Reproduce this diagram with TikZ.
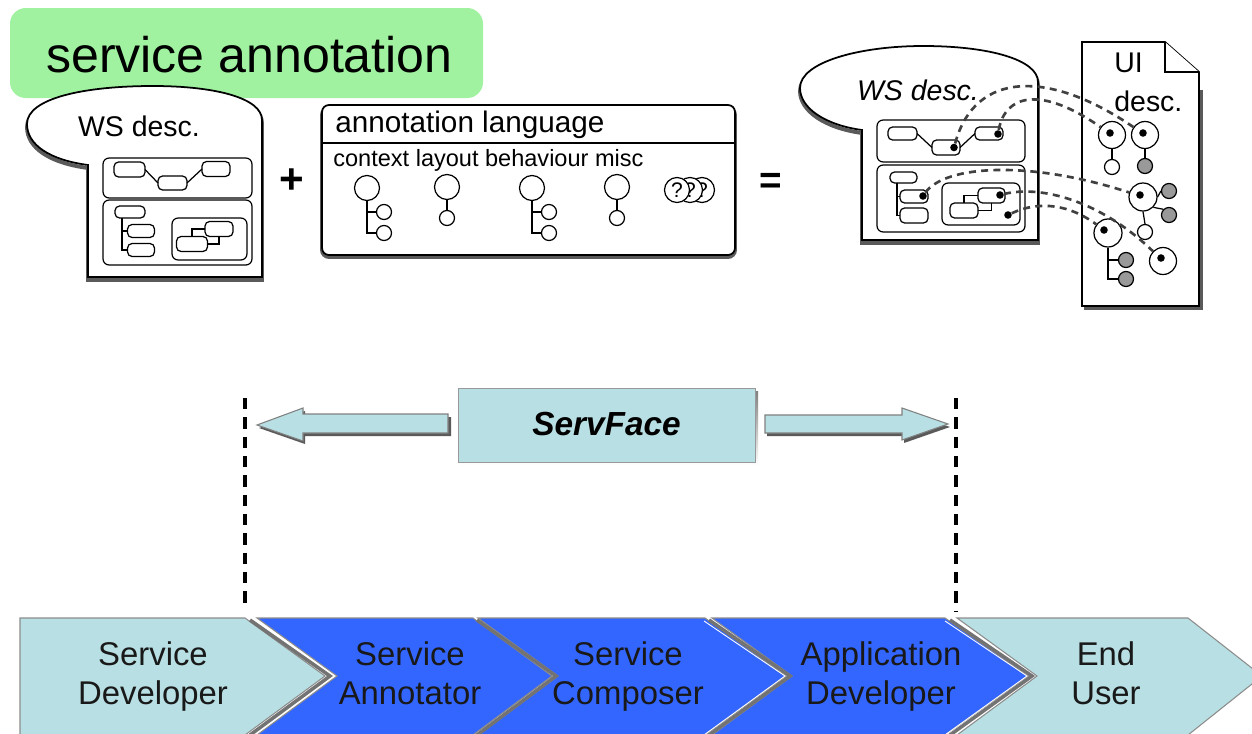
\documentclass[tikz,border=0pt]{standalone}
\usepackage{fontspec}
\setmainfont{Liberation Sans}
\usetikzlibrary{calc}
\definecolor{lcyan}{RGB}{184,224,228}
\definecolor{cblue}{RGB}{51,102,255}
\definecolor{lgreen}{RGB}{160,242,160}
\definecolor{shade}{RGB}{90,90,90}
\begin{document}
\begin{tikzpicture}[x=0.02cm,y=-0.02cm,
  sz/.style 2 args={minimum width=#1*0.02cm,minimum height=#2*0.02cm},
  pill/.style={draw,rounded corners=2.6pt,inner sep=0pt,outer sep=0pt,line width=0.7pt,fill=white},
  frame/.style={draw,rounded corners=3.5pt,inner sep=0pt,outer sep=0pt,line width=0.7pt},
  bigc/.style={draw,circle,fill=white,inner sep=0pt,minimum size=0.5cm,line width=0.7pt},
  smallc/.style={draw,circle,fill=white,inner sep=0pt,minimum size=0.3cm,line width=0.7pt},
  grayc/.style={smallc,fill=black!40},
  qc/.style={draw,circle,fill=white,inner sep=0pt,minimum size=0.5cm,line width=0.7pt,font=\fontsize{12}{14}\selectfont},
  dot/.style={circle,fill=black,inner sep=0pt,minimum size=4.3pt},
  conn/.style={draw=black!75,line width=1.5pt,dash pattern=on 4pt off 3pt},
  thin/.style={line width=0.7pt},
  bubble/.style={fill=white,draw=black,line width=1pt},
  bshadow/.style={draw=shade,line width=2.2pt},
  chevlight/.style={fill=lcyan,draw=black!45,line width=0.6pt},
  chevblue/.style={fill=cblue,draw=black!45,line width=0.6pt},
  notch/.style={draw=black!55,line width=2pt},
  notchw/.style={draw=white,line width=0.5pt},
  chevtext/.style={align=center,font=\fontsize{18.7}{22.2}\selectfont,text=black!90},
  vdash/.style={line width=2pt,dash pattern=on 6.5pt off 4.5pt},
  sarrow/.style={fill=lcyan,draw=black!50,line width=0.6pt},
]
\useasboundingbox (0,0) rectangle (1252,734);
\fill[white] (0,0) rectangle (1252,734);

% ---------------- title ----------------
\node[fill=lgreen,rounded corners=9pt,sz={473}{90},inner sep=0pt] (title) at (246.5,53) {};
\node[font=\fontsize{28.5}{32}\selectfont,anchor=west] (titletext) at (40,55) {service annotation};

% ---------------- left WS desc bubble ----------------
\path[bshadow,yshift=-3*0.02cm] (88,277) -- (88,165) .. controls (50,160) and (27,145) .. (27,124) .. controls (27,98) and (85,86) .. (153,86) .. controls (215,86) and (262,98) .. (262,120) -- (262,277) -- cycle;
\path[bubble] (88,277) -- (88,165) .. controls (50,160) and (27,145) .. (27,124) .. controls (27,98) and (85,86) .. (153,86) .. controls (215,86) and (262,98) .. (262,120) -- (262,277) -- cycle;
\node[font=\fontsize{16.2}{19}\selectfont] (lws) at (139,126) {WS desc.};
\node[frame,sz={149}{40}] (lup) at (177.5,178) {};
\node[frame,sz={149}{65}] (llo) at (177.5,232.5) {};
\node[frame,sz={75}{42}] (lne) at (209.5,239) {};
\node[pill,sz={31}{15}] (lp1) at (129.5,169.5) {};
\node[pill,sz={29}{14}] (lp2) at (172.5,183) {};
\node[pill,sz={28}{15}] (lp3) at (216,169) {};
\draw[thin] (lp1.east) -- (lp2.west);
\draw[thin] (lp2.east) -- (lp3.west);
\node[pill,sz={30}{12}] (ll1) at (130,212) {};
\node[pill,sz={27}{13}] (ll2) at (141,231) {};
\node[pill,sz={27}{13}] (ll3) at (141,250) {};
\coordinate (lt) at (122,218);
\draw[thin] (lt) |- (ll3.west);
\draw[thin] (ll2.west) -- (ll2.west -| lt);
\node[pill,sz={31}{15}] (ln1) at (192,244) {};
\node[pill,sz={28}{15}] (ln2) at (219,229) {};
\draw[thin] (ln1.north) |- (ln2.west);
\draw[thin] (ln2.south) |- (ln1.east);

% plus
\node[font=\bfseries\fontsize{24}{26}\selectfont] (plus) at (292,181) {+};

% ---------------- annotation language ----------------
\draw[draw=shade,line width=2.2pt,rounded corners=4pt] (322,108) rectangle (735,257);
\node[draw,fill=white,rounded corners=4pt,line width=1pt,sz={413}{150},inner sep=0pt] (al) at (528.5,180) {};
\draw[line width=1pt] (al.west |- 0,143) -- (al.east |- 0,143);
\node[font=\fontsize{16.9}{20}\selectfont,anchor=west,inner sep=0pt] (altitle) at (335,125) {annotation language};
\node[font=\fontsize{13.4}{16}\selectfont,anchor=west,inner sep=0pt] (alsub) at (333,160) {context layout behaviour misc};
% context
\node[bigc] (c1) at (367,188) {};
\node[smallc] (c1a) at (384,212) {};
\node[smallc] (c1b) at (384,233) {};
\draw[thin] (c1.south) |- (c1b.west);
\draw[thin] (c1a.west) -- (c1a.west -| c1.south);
% layout
\node[bigc] (l1) at (447,187) {};
\node[smallc] (l1a) at (447,218) {};
\draw[thin] (l1.south) -- (l1a.north);
% behaviour
\node[bigc] (b1) at (532,188) {};
\node[smallc] (b1a) at (549,212) {};
\node[smallc] (b1b) at (549,233) {};
\draw[thin] (b1.south) |- (b1b.west);
\draw[thin] (b1a.west) -- (b1a.west -| b1.south);
% misc
\node[bigc] (m1) at (617,187) {};
\node[smallc] (m1a) at (617,218) {};
\draw[thin] (m1.south) -- (m1a.north);
% ???
\node[qc] (q3) at (702,190) {?};
\node[qc] (q2) at (690,190) {?};
\node[qc] (q1) at (677,190) {?};

% equals
\node[font=\bfseries\fontsize{22}{24}\selectfont] (eq) at (771,183) {=};

% ---------------- right WS desc bubble ----------------
\path[bshadow,yshift=-3*0.02cm] (862,240) -- (862,130) .. controls (825,125) and (800,108) .. (800,88) .. controls (800,62) and (860,46) .. (923,46) .. controls (990,46) and (1038,60) .. (1038,82) -- (1038,240) -- cycle;
\path[bubble] (862,240) -- (862,130) .. controls (825,125) and (800,108) .. (800,88) .. controls (800,62) and (860,46) .. (923,46) .. controls (990,46) and (1038,60) .. (1038,82) -- (1038,240) -- cycle;
\node[font=\itshape\fontsize{16.2}{19}\selectfont] (rws) at (918,90) {WS desc.};
\node[frame,sz={148}{42}] (rup) at (951,141) {};
\node[frame,sz={148}{67}] (rlo) at (951,198.5) {};
\node[frame,sz={78}{42}] (rne) at (981,204) {};
\node[pill,sz={29}{13}] (rt1) at (902.5,133.5) {};
\node[pill,sz={28}{15}] (rt2) at (946,147.5) {};
\node[pill,sz={28}{13}] (rt3) at (989,133.5) {};
\draw[thin] (rt1.east) -- (rt2.west);
\draw[thin] (rt2.east) -- (rt3.west);
\node[pill,sz={27}{11}] (rl1) at (903.5,177.5) {};
\node[pill,sz={28}{13}] (rl2) at (914,196.5) {};
\node[pill,sz={28}{15}] (rl3) at (914,215.5) {};
\coordinate (rtc) at (897,183);
\draw[thin] (rtc) |- (rl3.west);
\draw[thin] (rl2.west) -- (rl2.west -| rtc);
\node[pill,sz={28}{15}] (rn1) at (964,210.5) {};
\node[pill,sz={27}{15}] (rn2) at (991.5,195.5) {};
\draw[thin] (rn1.north) |- (rn2.west);
\draw[thin] (rn2.south) |- (rn1.east);
\node[dot] (dT2) at (954,147.5) {};
\node[dot] (dT3) at (998,134) {};
\node[dot] (dL2) at (923,196) {};
\node[dot] (dN2) at (1000,195) {};
\node[dot] (dN3) at (1008,215) {};

% ---------------- UI desc page ----------------
\draw[draw=shade,line width=2.2pt] (1201,90) -- (1201,308) -- (1084,308);
\path[fill=white,draw=black,line width=1pt] (1082,42) -- (1165,42) -- (1199,72) -- (1199,306) -- (1082,306) -- cycle;
\draw[line width=1pt,fill=white] (1165,42) -- (1165,72) -- (1199,72);
\node[font=\fontsize{16.2}{19}\selectfont,anchor=west,inner sep=0pt] (ui) at (1114,63) {UI};
\node[font=\fontsize{16.2}{19}\selectfont,anchor=west,inner sep=0pt] (uidesc) at (1114,101) {desc.};

\node[bigc,minimum size=0.54cm] (uA) at (1112,135) {};
\node[smallc] (uAa) at (1112,167) {};
\draw[thin] (uA.south) -- (uAa.north);
\node[bigc,minimum size=0.54cm] (uB) at (1145,135) {};
\node[grayc] (uBa) at (1145,166) {};
\draw[thin] (uB.south) -- (uBa.north);
\node[bigc,minimum size=0.56cm] (uC) at (1143,197) {};
\node[grayc] (uCa) at (1169,191) {};
\node[grayc] (uCb) at (1169,215) {};
\node[smallc] (uCc) at (1145,232) {};
\draw[thin] (uC.south) -- (uCc.north);
\draw[thin] (uC.east) -- (uCa.west);
\draw[thin] (uC.south east) -- (uCb.north west);
\node[bigc,minimum size=0.56cm] (uD) at (1108,233) {};
\node[grayc] (uDa) at (1126,260) {};
\node[grayc] (uDb) at (1126,279) {};
\draw[thin] (uD.south) |- (uDb.west);
\draw[thin] (uDa.west) -- (uDa.west -| uD.south);
\node[bigc,minimum size=0.54cm] (uE) at (1163,261) {};
\node[dot] (dA) at (1110,133) {};
\node[dot] (dB) at (1143,133) {};
\node[dot] (dC) at (1140,195) {};
\node[dot] (dD) at (1104,230) {};
\node[dot] (dE) at (1161,258) {};

% dashed mappings
\draw[conn] (dT2) .. controls (975,70) and (1050,70) .. (uB);
\draw[conn] (dT3) .. controls (1005,95) and (1040,85) .. (uA);
\draw[conn] (dL2) .. controls (945,165) and (1030,160) .. (uC);
\draw[conn] (dN2) .. controls (1040,185) and (1100,200) .. (uE);
\draw[conn] (dN3) .. controls (1040,200) and (1070,205) .. (uD);

% ---------------- ServFace ----------------
\draw[vdash] (245,398) -- (245,603);
\draw[vdash] (956,398) -- (956,612);
\fill[shade] (461,391) rectangle (758,465);
\node[fill=lcyan,draw=black!40,line width=0.5pt,sz={297}{74},inner sep=0pt] (sf) at (606.5,425) {};
\node[font=\bfseries\itshape\fontsize{19}{22}\selectfont] (sftext) at (606.5,424) {ServFace};
\coordinate (ltip) at (257,425);
\coordinate (rtip) at (948,424);
\path[fill=shade] ($(ltip)+(2,3)$) -- ++(46,-17) -- ++(0,6) -- ++(146,0) -- ++(0,19) -- ++(-146,0) -- ++(0,8) -- cycle;
\path[sarrow] (ltip) -- ++(46,-17) -- ++(0,6) -- ++(145,0) -- ++(0,19) -- ++(-145,0) -- ++(0,8) -- cycle;
\path[fill=shade] ($(rtip)+(2,3)$) -- ++(-46,-16) -- ++(0,7) -- ++(-137,0) -- ++(0,18) -- ++(137,0) -- ++(0,7) -- cycle;
\path[sarrow] (rtip) -- ++(-46,-16) -- ++(0,7) -- ++(-137,0) -- ++(0,18) -- ++(137,0) -- ++(0,7) -- cycle;

% ---------------- role chevrons ----------------
\path[chevlight] (20,618) -- (245,618) -- (325,676) -- (245,735) -- (20,735) -- cycle;
\path[chevblue] (257,618) -- (473,618) -- (552,676) -- (473,735) -- (257,735) -- (337,676) -- cycle;
\path[chevblue] (478,618) -- (705,618) -- (786,676) -- (705,735) -- (478,735) -- (558,676) -- cycle;
\path[chevblue] (712,618) -- (945,618) -- (1028,676) -- (945,735) -- (712,735) -- (792,676) -- cycle;
\path[chevlight] (957,618) -- (1188,618) -- (1262,676) -- (1188,735) -- (957,735) -- (1037,676) -- cycle;
\draw[notch] (250,620) -- (330,676) -- (250,735);
\draw[notch] (477,620) -- (556,676) -- (477,735);
\draw[notch] (709,620) -- (790,676) -- (709,735);
\draw[notch] (950,620) -- (1032,676) -- (950,735);
\draw[notchw] (704,621) -- (785,676) -- (704,735);
\draw[notchw] (945,621) -- (1027,676) -- (945,735);
\node[chevtext] (r1) at (153,677) {\strut Service\strut\\\strut Developer\strut};
\node[chevtext] (r2) at (410,677) {\strut Service\strut\\\strut Annotator\strut};
\node[chevtext] (r3) at (628,677) {\strut Service\strut\\\strut Composer\strut};
\node[chevtext] (r4) at (881,677) {\strut Application\strut\\\strut Developer\strut};
\node[chevtext] (r5) at (1106,677) {\strut End\strut\\\strut User\strut};
\end{tikzpicture}
\end{document}
